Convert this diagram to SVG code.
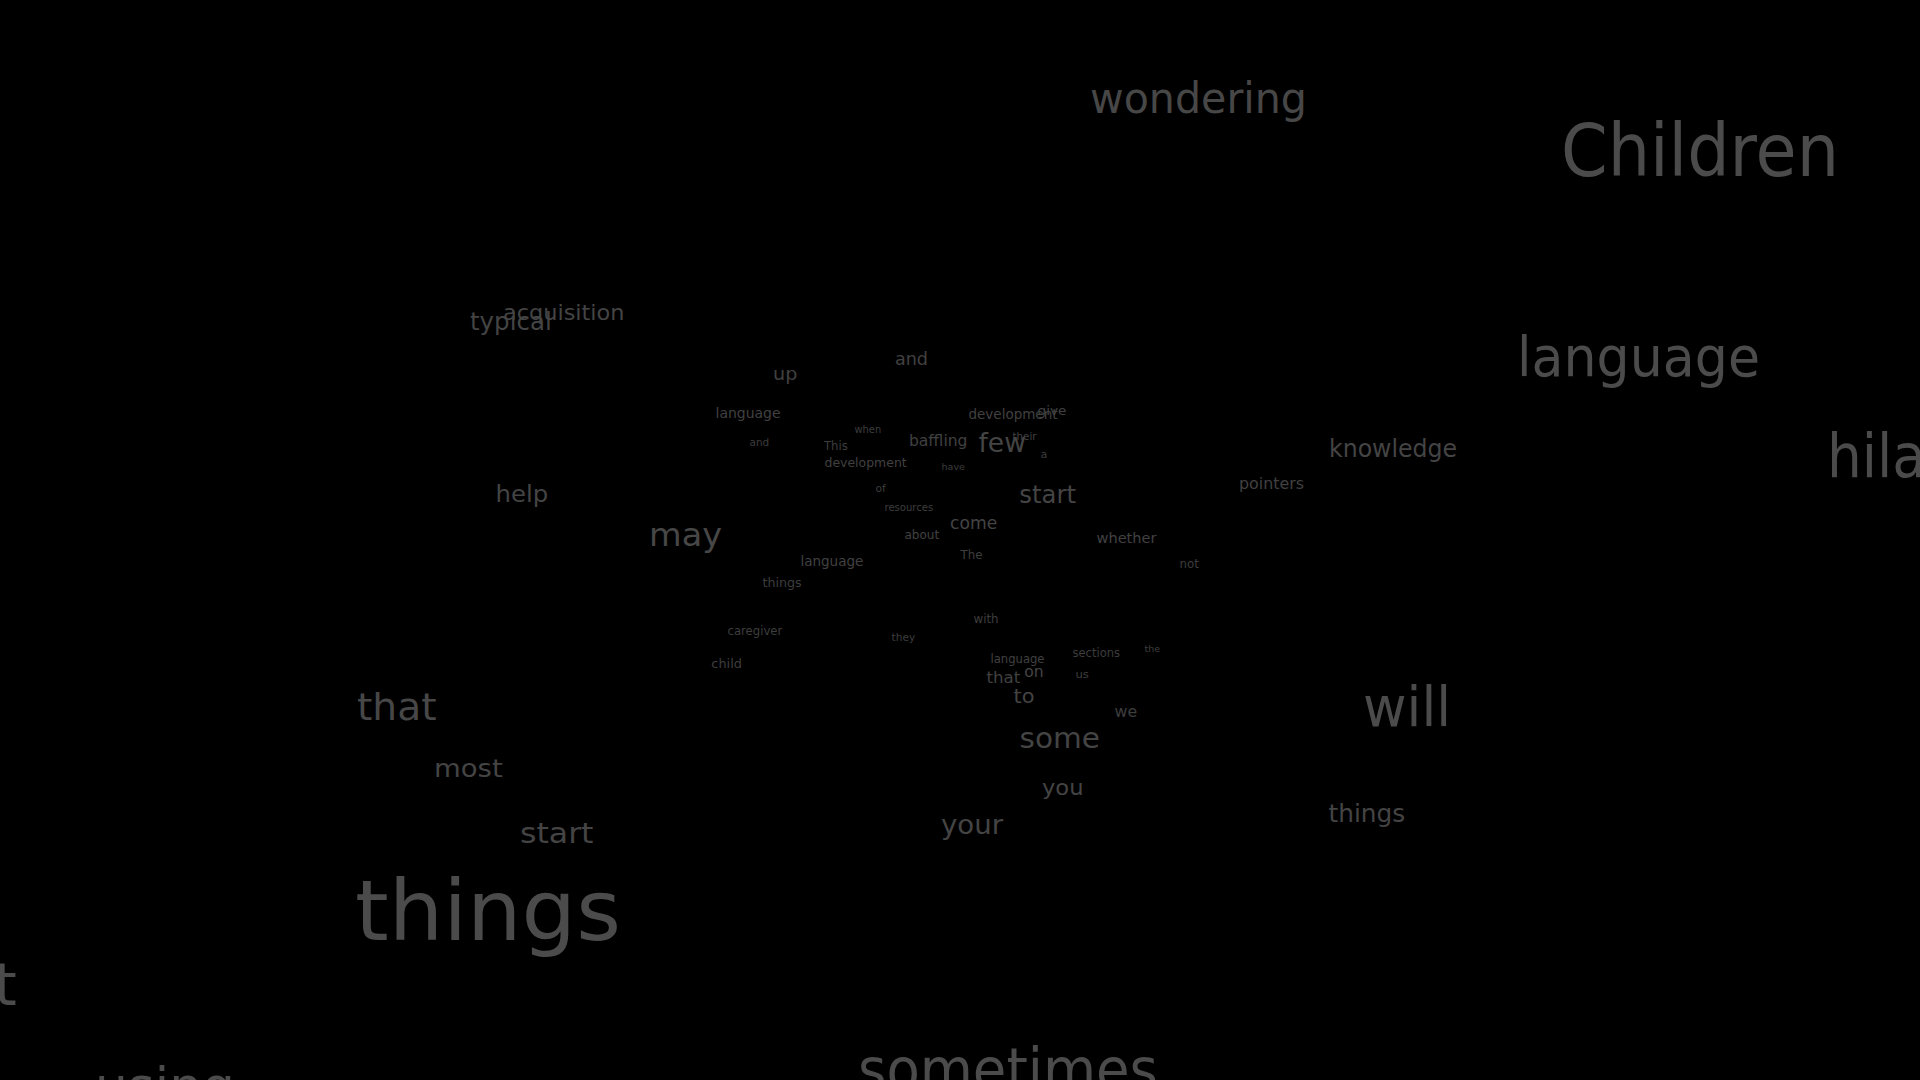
<svg xmlns="http://www.w3.org/2000/svg" width="1920" height="1080" viewBox="0 0 1920 1080">
<style>
text{font-family:"DejaVu Sans","Liberation Sans",sans-serif;}
.c1{fill:#4b4b4b}.c2{fill:#474747}.c3{fill:#444444}.c4{fill:#404040}.c5{fill:#3d3d3d}
</style>
<rect width="1920" height="1080" fill="#000"/>
<g id="words">
<text class="c2" x="1090" y="113" font-size="43" textLength="217" lengthAdjust="spacingAndGlyphs">wondering</text>
<text class="c1" x="1561" y="176" font-size="73" textLength="278" lengthAdjust="spacingAndGlyphs">Children</text>
<text class="c1" x="1517" y="376" font-size="56" textLength="243" lengthAdjust="spacingAndGlyphs">language</text>
<text class="c1" x="1827" y="477" font-size="61" textLength="99" lengthAdjust="spacingAndGlyphs">hila</text>
<text class="c3" x="1329" y="457" font-size="24" textLength="128" lengthAdjust="spacingAndGlyphs">knowledge</text>
<text class="c4" x="1239" y="489" font-size="16" textLength="65" lengthAdjust="spacingAndGlyphs">pointers</text>
<text class="c4" x="1096.5" y="543" font-size="14.5" textLength="60" lengthAdjust="spacingAndGlyphs">whether</text>
<text class="c5" x="1179.5" y="568" font-size="11.5" textLength="19.3" lengthAdjust="spacingAndGlyphs">not</text>
<text class="c4" x="715.5" y="418" font-size="14" textLength="65" lengthAdjust="spacingAndGlyphs">language</text>
<text class="c4" x="968.5" y="419" font-size="13.3" textLength="89" lengthAdjust="spacingAndGlyphs">development</text>
<text class="c4" x="1037.5" y="415" font-size="13" textLength="29" lengthAdjust="spacingAndGlyphs">give</text>
<text class="c5" x="854.5" y="433" font-size="9.8" textLength="26.7" lengthAdjust="spacingAndGlyphs">when</text>
<text class="c5" x="749.5" y="445.5" font-size="10" textLength="19.7" lengthAdjust="spacingAndGlyphs">and</text>
<text class="c5" x="824" y="450" font-size="11.5" textLength="23.8" lengthAdjust="spacingAndGlyphs">This</text>
<text class="c4" x="909" y="446" font-size="15.5" textLength="58.4" lengthAdjust="spacingAndGlyphs">baffling</text>
<text class="c3" x="978.5" y="452" font-size="27" textLength="47.5" lengthAdjust="spacingAndGlyphs">few</text>
<text class="c4" x="1012.5" y="440" font-size="10" textLength="24" lengthAdjust="spacingAndGlyphs">their</text>
<text class="c5" x="1040.5" y="458" font-size="11">a</text>
<text class="c4" x="824.5" y="467" font-size="12.5" textLength="82.2" lengthAdjust="spacingAndGlyphs">development</text>
<text class="c5" x="941.5" y="470" font-size="9.5" textLength="23.4" lengthAdjust="spacingAndGlyphs">have</text>
<text class="c5" x="875.5" y="491.7" font-size="10" textLength="10.3" lengthAdjust="spacingAndGlyphs">of</text>
<text class="c3" x="1019.3" y="503" font-size="24" textLength="56.7" lengthAdjust="spacingAndGlyphs">start</text>
<text class="c5" x="884.5" y="511" font-size="10" textLength="48.7" lengthAdjust="spacingAndGlyphs">resources</text>
<text class="c3" x="950" y="529" font-size="17.5" textLength="47.2" lengthAdjust="spacingAndGlyphs">come</text>
<text class="c4" x="904.4" y="539" font-size="12" textLength="34.8" lengthAdjust="spacingAndGlyphs">about</text>
<text class="c5" x="960.5" y="559" font-size="11.5" textLength="22.1" lengthAdjust="spacingAndGlyphs">The</text>
<text class="c4" x="800.4" y="566" font-size="13.5" textLength="63" lengthAdjust="spacingAndGlyphs">language</text>
<text class="c5" x="762.5" y="587" font-size="12.5" textLength="39.2" lengthAdjust="spacingAndGlyphs">things</text>
<text class="c2" x="649" y="546" font-size="32" textLength="73" lengthAdjust="spacingAndGlyphs">may</text>
<text class="c5" x="973.5" y="623" font-size="11.5" textLength="25" lengthAdjust="spacingAndGlyphs">with</text>
<text class="c5" x="727.5" y="635" font-size="11.5" textLength="54.8" lengthAdjust="spacingAndGlyphs">caregiver</text>
<text class="c5" x="891.5" y="641" font-size="10.3" textLength="23.7" lengthAdjust="spacingAndGlyphs">they</text>
<text class="c5" x="1072.5" y="657" font-size="11.5" textLength="47.5" lengthAdjust="spacingAndGlyphs">sections</text>
<text class="c5" x="1144.5" y="652" font-size="9.3" textLength="15.6" lengthAdjust="spacingAndGlyphs">the</text>
<text class="c5" x="711.3" y="668" font-size="13" textLength="30.6" lengthAdjust="spacingAndGlyphs">child</text>
<text class="c4" x="990.5" y="663" font-size="11.5" textLength="54" lengthAdjust="spacingAndGlyphs">language</text>
<text class="c3" x="1024.2" y="677" font-size="16" textLength="19.4" lengthAdjust="spacingAndGlyphs">on</text>
<text class="c4" x="986.5" y="683" font-size="16.5" textLength="33.8" lengthAdjust="spacingAndGlyphs">that</text>
<text class="c5" x="1075.5" y="678" font-size="11" textLength="13.4" lengthAdjust="spacingAndGlyphs">us</text>
<text class="c3" x="1013.5" y="703" font-size="20" textLength="21" lengthAdjust="spacingAndGlyphs">to</text>
<text class="c5" x="1114.5" y="717" font-size="15" textLength="22.7" lengthAdjust="spacingAndGlyphs">we</text>
<text class="c3" x="1019.5" y="748" font-size="29" textLength="80.4" lengthAdjust="spacingAndGlyphs">some</text>
<text class="c3" x="1042" y="795" font-size="22" textLength="41.5" lengthAdjust="spacingAndGlyphs">you</text>
<text class="c3" x="941" y="834" font-size="27" textLength="62" lengthAdjust="spacingAndGlyphs">your</text>
<text class="c3" x="1328.5" y="822" font-size="25" textLength="76.7" lengthAdjust="spacingAndGlyphs">things</text>
<text class="c1" x="1363" y="726" font-size="56" textLength="88" lengthAdjust="spacingAndGlyphs">will</text>
<text class="c1" x="858" y="1090" font-size="58" textLength="300" lengthAdjust="spacingAndGlyphs">sometimes</text>
<text class="c1" x="95" y="1104" font-size="52" textLength="140" lengthAdjust="spacingAndGlyphs">using</text>
<text class="c1" x="-6" y="1005" font-size="58">t</text>
<text class="c2" x="357" y="720" font-size="38" textLength="79.6" lengthAdjust="spacingAndGlyphs">that</text>
<text class="c3" x="434" y="777" font-size="25" textLength="68.7" lengthAdjust="spacingAndGlyphs">most</text>
<text class="c3" x="520" y="843" font-size="29" textLength="73.5" lengthAdjust="spacingAndGlyphs">start</text>
<text class="c1" x="355" y="940" font-size="84" textLength="266" lengthAdjust="spacingAndGlyphs">things</text>
<text class="c3" x="495.5" y="502" font-size="23" textLength="52.6" lengthAdjust="spacingAndGlyphs">help</text>
<text class="c4" x="773" y="380" font-size="18" textLength="24.3" lengthAdjust="spacingAndGlyphs">up</text>
<text class="c4" x="895" y="365" font-size="17" textLength="33" lengthAdjust="spacingAndGlyphs">and</text>
<text class="c3" x="470" y="330" font-size="24" textLength="81.7" lengthAdjust="spacingAndGlyphs">typical</text>
<text class="c3" x="503" y="320" font-size="22" textLength="121.5" lengthAdjust="spacingAndGlyphs">acquisition</text>
</g>
</svg>
